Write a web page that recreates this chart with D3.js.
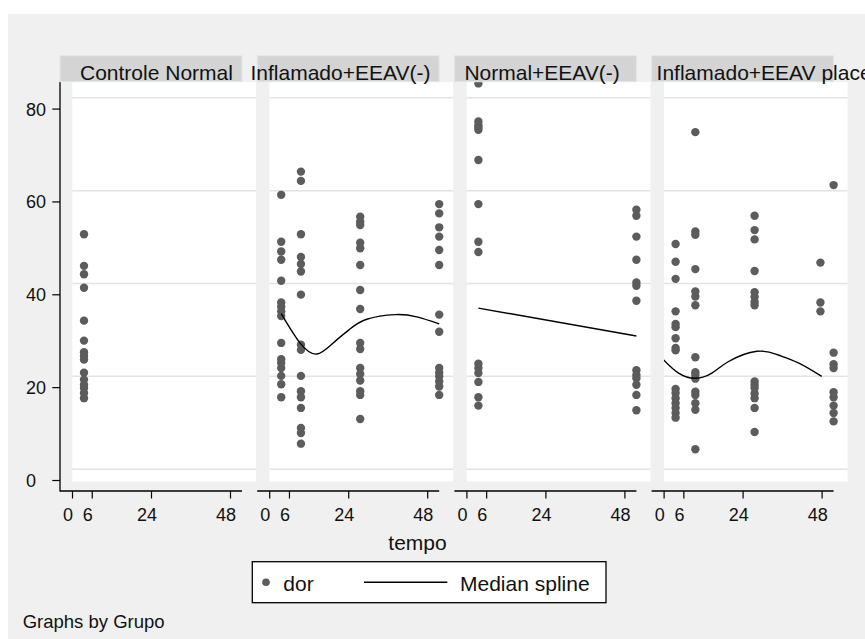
<!DOCTYPE html>
<html><head><meta charset="utf-8">
<script src="https://cdn.jsdelivr.net/npm/d3@7"></script>
<style>
body{margin:0;background:#fff}
svg{display:block;font-family:"Liberation Sans",Arial,Helvetica,sans-serif}
</style>
</head><body>
<svg id="chart" width="865" height="639"></svg>
<script>
// ---------------- DATA ----------------
const groups = ["Controle Normal", "Inflamado+EEAV(-)", "Normal+EEAV(-)", "Inflamado+EEAV placebo"];
const tempoTicks = [0, 6, 24, 48];
const dorTicks = [0, 20, 40, 60, 80];

// [tempo, dor] pairs per group
const dorControleNormal = [
  [0,50.6],[0,43.8],[0,42.0],[0,39.1],[0,32.0],[0,27.7],[0,25.2],[0,24.4],[0,23.6],
  [0,20.8],[0,19.3],[0,18.2],[0,17.5],[0,16.4],[0,15.3]
];
const dorInflamado = [
  [0,59.1],[0,49.0],[0,46.9],[0,45.1],[0,40.6],[0,35.9],[0,35.0],[0,34.0],[0,33.0],
  [0,27.2],[0,23.7],[0,22.9],[0,21.8],[0,20.1],[0,18.3],[0,15.5],
  [6,64.1],[6,62.1],[6,50.6],[6,45.7],[6,44.2],[6,42.6],[6,37.6],[6,26.8],[6,25.7],
  [6,20.1],[6,16.8],[6,15.5],[6,13.2],[6,8.9],[6,7.8],[6,5.5],
  [24,54.4],[24,53.3],[24,52.6],[24,48.8],[24,47.6],[24,44.0],[24,38.6],[24,34.5],
  [24,27.2],[24,25.9],[24,21.8],[24,20.5],[24,19.1],[24,16.8],[24,16.0],[24,10.8],
  [48,57.1],[48,55.1],[48,52.1],[48,50.1],[48,47.2],[48,44.0],[48,33.3],[48,29.6],
  [48,21.8],[48,20.8],[48,20.0],[48,18.9],[48,17.8],[48,16.0]
];
const dorNormalEEAV = [
  [0,83.1],[0,74.9],[0,74.1],[0,73.6],[0,73.1],[0,66.6],[0,57.1],[0,49.0],[0,46.8],
  [0,22.7],[0,21.8],[0,20.7],[0,18.8],[0,15.5],[0,13.7],
  [48,55.9],[48,54.6],[48,50.1],[48,45.1],[48,40.2],[48,39.5],[48,36.3],
  [48,21.3],[48,20.3],[48,19.6],[48,18.2],[48,16.0],[48,12.7]
];
const dorPlacebo = [
  [0,48.5],[0,44.7],[0,41.0],[0,34.0],[0,31.3],[0,30.6],[0,28.2],[0,26.1],[0,25.6],
  [0,17.3],[0,16.4],[0,15.3],[0,14.2],[0,13.2],[0,12.1],[0,11.1],
  [6,72.6],[6,51.2],[6,50.5],[6,43.1],[6,38.3],[6,37.2],[6,35.3],[6,24.1],[6,20.9],
  [6,20.3],[6,19.5],[6,16.7],[6,16.0],[6,14.2],[6,12.8],[6,4.3],
  [24,54.6],[24,51.5],[24,49.5],[24,42.7],[24,38.1],[24,37.1],[24,36.0],[24,35.3],
  [24,18.9],[24,18.2],[24,17.5],[24,16.3],[24,15.3],[24,13.2],[24,8.0],
  [44,44.5],[44,35.9],[44,34.0],
  [48,61.2],[48,25.1],[48,22.6],[48,21.8],[48,16.6],[48,15.5],[48,13.7],[48,12.1],[48,10.3]
];
const dorData = [dorControleNormal, dorInflamado, dorNormalEEAV, dorPlacebo];

// median spline knots [tempo, dor] per group
const splineControleNormal = [];
const splineInflamado = [[0,33.5],[5.7,27.2],[10.8,24.8],[15.8,27.2],[20.9,30.2],[26,32.3],[34.6,33.3],[41.2,32.8],[48,31.3]];
const splineNormalEEAV = [[0,34.7],[48,28.7]];
const splinePlacebo = [[-3.7,23.6],[0.9,20.7],[6,19.6],[11,20.7],[16.1,23.2],[24.7,25.4],[31.2,24.6],[37.3,22.9],[44.4,20.0]];
const splineData = [splineControleNormal, splineInflamado, splineNormalEEAV, splinePlacebo];

const legendLabels = ["dor", "Median spline"];
const xTitle = "tempo";
const note = "Graphs by Grupo";

// ---------------- LAYOUT ----------------
const W = 865, H = 639;
const svg = d3.select("#chart");
const bg = "#f0f0f0", ptColor = "#5c5c5c", ink = "#111";

svg.append("rect").attr("x", 8).attr("y", 14).attr("width", W - 8).attr("height", H - 14).attr("fill", bg);

const panelLeft = i => 60 + i * 197.2;
const panelW = 182;
const shiftX = 12, shiftY = -10.8;        // plot region offset relative to axes
const titleOffsets = [20, -6.7, 10, 5];

const y = d3.scaleLinear().domain([0, 80]).range([480, 108.6]);

groups.forEach((g, i) => {
  const L = panelLeft(i);
  const x = d3.scaleLinear().domain([0, 48]).range([L + 12, L + 170]);
  const px = t => x(t) + shiftX;
  const py = v => y(v) + shiftY;
  const wx0 = L + 12.3, wx1 = L + 196, wy0 = 82, wy1 = 481.5;

  svg.append("rect").attr("x", wx0).attr("y", wy0).attr("width", wx1 - wx0).attr("height", wy1 - wy0).attr("fill", "#fff");

  // gridlines
  svg.append("g").selectAll("line").data(dorTicks).join("line")
    .attr("x1", wx0).attr("x2", wx1)
    .attr("y1", d => py(d)).attr("y2", d => py(d))
    .attr("stroke", "#e3e3e3").attr("stroke-width", 1.5);

  const clipId = "clip" + i;
  svg.append("clipPath").attr("id", clipId).append("rect")
    .attr("x", wx0).attr("y", wy0).attr("width", wx1 - wx0).attr("height", wy1 - wy0);

  // points
  svg.append("g").selectAll("circle").data(dorData[i]).join("circle")
    .attr("cx", d => px(d[0])).attr("cy", d => py(d[1])).attr("r", 4.2)
    .attr("fill", ptColor);

  // spline
  if (splineData[i].length > 1) {
    const line = d3.line().x(d => px(d[0])).y(d => py(d[1]))
      .curve(splineData[i].length > 2 ? d3.curveNatural : d3.curveLinear);
    svg.append("path").datum(splineData[i]).attr("d", line)
      .attr("clip-path", `url(#${clipId})`)
      .attr("fill", "none").attr("stroke", "#000").attr("stroke-width", 1.4);
  }

  // x axis
  const xa = svg.append("g").attr("transform", "translate(0,491)")
    .call(d3.axisBottom(x).tickValues(tempoTicks).tickSize(7.5).tickSizeOuter(0));
  xa.select(".domain").remove();
  xa.selectAll(".tick line").attr("stroke", "#000").attr("stroke-width", 1.2);
  xa.selectAll(".tick text").attr("y", 29.7).attr("dy", 0).attr("dx", -4.4)
    .attr("font-size", 18).attr("fill", ink).attr("font-family", null);
  svg.append("line").attr("x1", L).attr("x2", L + panelW).attr("y1", 491).attr("y2", 491)
    .attr("stroke", "#000").attr("stroke-width", 1.3);

  // y axis (first panel only)
  if (i === 0) {
    const ya = svg.append("g").attr("transform", `translate(${L},0)`)
      .call(d3.axisLeft(y).tickValues(dorTicks).tickSize(7.7).tickSizeOuter(0));
    ya.select(".domain").remove();
    ya.selectAll(".tick line").attr("stroke", "#000").attr("stroke-width", 1.2);
    ya.selectAll(".tick text").attr("x", 26 - L).attr("dy", "0.36em").attr("text-anchor", "start")
      .attr("font-size", 18).attr("fill", ink).attr("font-family", null);
    svg.append("line").attr("x1", L).attr("x2", L).attr("y1", 81.7).attr("y2", 491.6)
      .attr("stroke", "#000").attr("stroke-width", 1.3);
  }

  // panel title
  svg.append("rect").attr("x", L).attr("y", 55.7).attr("width", panelW).attr("height", 26)
    .attr("fill", "#d4d4d4").attr("stroke", "#e2e8eb").attr("stroke-width", 1);
  svg.append("text").attr("x", L + titleOffsets[i]).attr("y", 80)
    .attr("font-size", 21).attr("fill", ink).text(g);
});

// x title
svg.append("text").attr("x", 388.3).attr("y", 550).attr("font-size", 21).attr("fill", ink).text(xTitle);

// legend
const lg = svg.append("g");
lg.append("rect").attr("x", 252.3).attr("y", 561.7).attr("width", 353.7).attr("height", 41)
  .attr("fill", "#fff").attr("stroke", "#000").attr("stroke-width", 1.3);
lg.append("circle").attr("cx", 266).attr("cy", 582.3).attr("r", 3.8).attr("fill", ptColor);
lg.append("text").attr("x", 283.3).attr("y", 590.5).attr("font-size", 21).attr("fill", ink).text(legendLabels[0]);
lg.append("line").attr("x1", 364).attr("x2", 447.3).attr("y1", 582.3).attr("y2", 582.3)
  .attr("stroke", "#000").attr("stroke-width", 1.4);
lg.append("text").attr("x", 460).attr("y", 590.5).attr("font-size", 21).attr("fill", ink).text(legendLabels[1]);

// note
svg.append("text").attr("x", 22.7).attr("y", 628.3).attr("font-size", 18.5).attr("fill", ink).text(note);
</script>
</body></html>
